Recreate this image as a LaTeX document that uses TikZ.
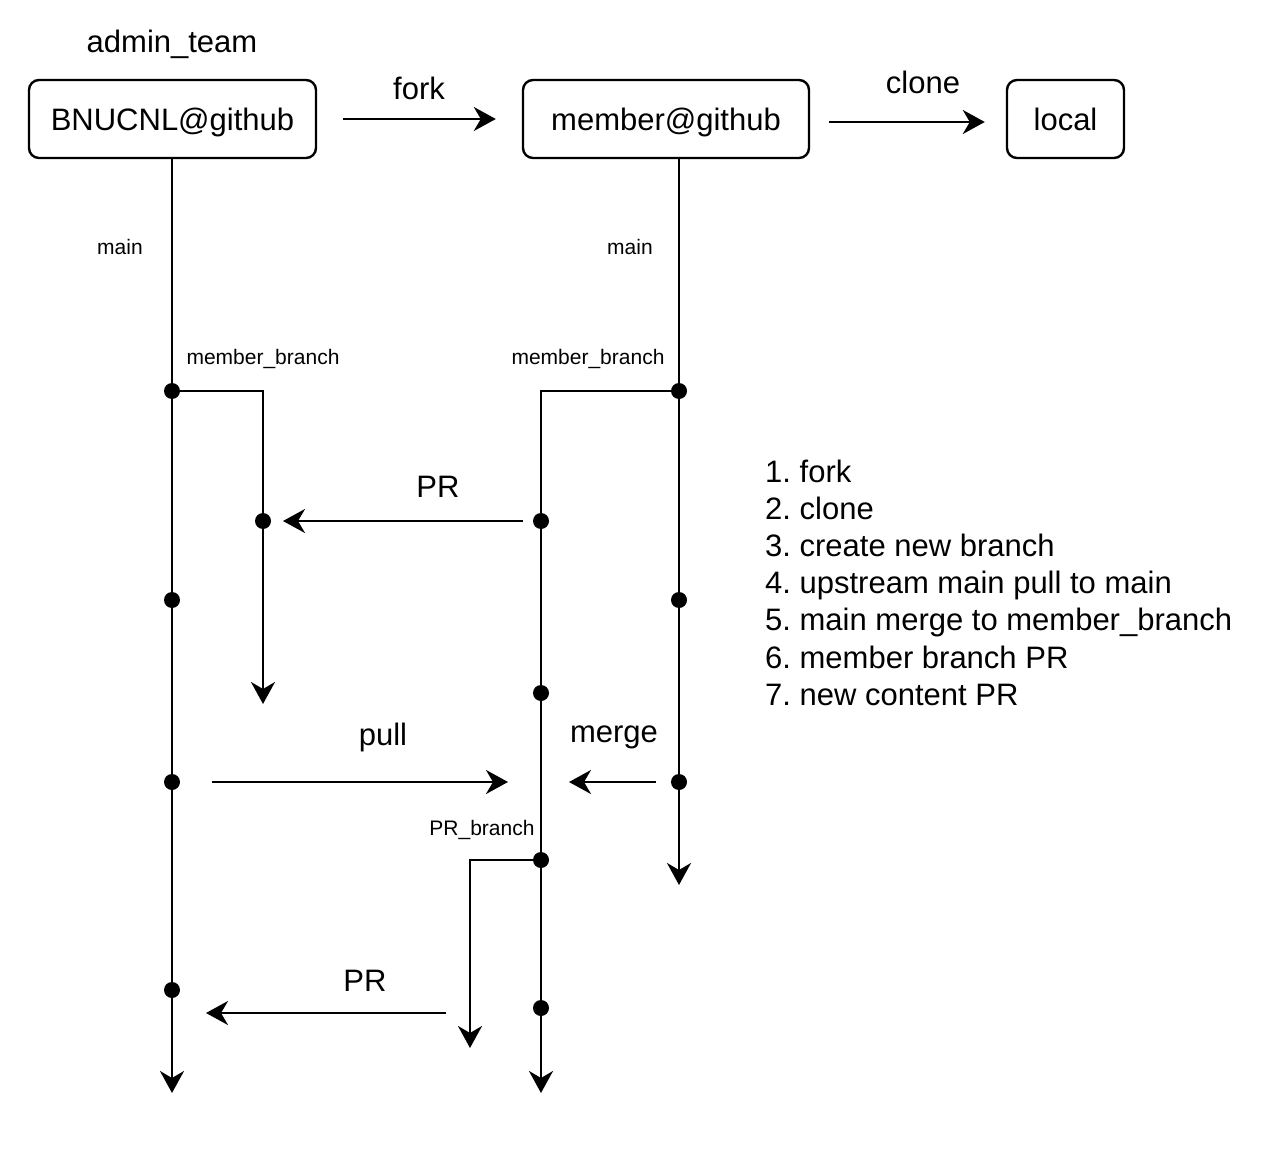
\documentclass[tikz,border=0pt]{standalone}
\usepackage{fontspec}
\setmainfont{Liberation Sans}
\usetikzlibrary{arrows.meta,calc}
\frenchspacing
\begin{document}
\begin{tikzpicture}[x=1pt,y=-1pt,
  line width=2.4pt,
  big/.style={font=\fontsize{31}{37}\selectfont, inner sep=0pt},
  small/.style={font=\fontsize{21}{25}\selectfont, inner sep=0pt},
  repo/.style={draw, rounded corners=10pt, minimum height=78pt, inner sep=0pt, text depth=0pt, font=\fontsize{31}{37}\selectfont},
  commit/.style={circle, fill, inner sep=0pt, minimum size=16pt},
  arr/.style={-{Stealth[length=22pt,width=24pt,inset=7pt]}},
]
\useasboundingbox (0,0) rectangle (1266,1166);

% repositories
\node[repo, minimum width=287pt] (bnu) at (172.5,119) {BNUCNL@github};
\node[repo, minimum width=286pt] (mem) at (666,119) {member@github};
\node[repo, minimum width=117pt] (local) at (1065.5,119) {local};

% titles and top arrows
\node[big, anchor=base] (admin) at (172,53) {admin\_team};
\draw[arr, shorten <=26pt, shorten >=26pt] (bnu) -- (mem);
\node[big, anchor=base] (forklbl) at (419,100) {fork};
\draw[arr] ($(mem.east)+(19,3)$) -- ($(local.west)+(-21,3)$);
\node[big, anchor=base] (clonelbl) at (923,94) {clone};

% commits on upstream main
\node[commit] (a1) at (172,391) {};
\node[commit] (a2) at (172,600) {};
\node[commit] (a3) at (172,782) {};
\node[commit] (a4) at (172,990) {};
\coordinate (aEnd) at (172,1093);

% upstream member_branch
\node[commit] (b1) at (263,521) {};
\coordinate (bEnd) at (263,704);

% fork main
\node[commit] (m1) at (679,391) {};
\node[commit] (m2) at (679,600) {};
\node[commit] (m3) at (679,782) {};
\coordinate (mEnd) at (679,885);

% fork member_branch
\node[commit] (c1) at (541,521) {};
\node[commit] (c2) at (541,693) {};
\node[commit] (c3) at (541,860) {};
\node[commit] (c4) at (541,1008) {};
\coordinate (cEnd) at (541,1093);

% PR_branch
\coordinate (dEnd) at (470,1048);

% branch lines
\draw[arr] (bnu.south -| a1) -- (aEnd);
\draw[arr] (a1.center) -| (bEnd);
\draw[arr] (mem.south -| m1) -- (mEnd);
\draw[arr] (m1.center) -| (cEnd);
\draw[arr] (c3.center) -| (dEnd);

% branch labels
\node[small, anchor=base] (mainA) at (120,255) {main};
\node[small, anchor=base] (mainM) at (630,255) {main};
\node[small, anchor=base] (mbA) at (263,364) {member\_branch};
\node[small, anchor=base] (mbM) at (588,364) {member\_branch};
\node[small, anchor=base] (prb) at (482,835) {PR\_branch};

% PR 1
\draw[arr, shorten <=18pt, shorten >=20pt] (c1.center) -- (b1.center);
\node[big, anchor=base] (pr1) at (438,497) {PR};

% pull
\draw[arr, shorten <=40pt, shorten >=33pt] (a3.center) -- (c1 |- a3);
\node[big, anchor=base] (pull) at (383,745) {pull};

% merge
\draw[arr, shorten <=23pt, shorten >=28pt] (m3.center) -- (c1 |- m3);
\node[big, anchor=base] (merge) at (614,742) {merge};

% PR 2
\coordinate (pr2s) at (446,1013);
\coordinate (pr2e) at (206,1013);
\draw[arr] (pr2s) -- (pr2e);
\node[big, anchor=base] (pr2) at (365,991) {PR};

% steps list
\foreach \t [count=\i from 0] in {1. fork, 2. clone, 3. create new branch,
  4. upstream main pull to main, 5. main merge to member\_branch,
  6. member branch PR, 7. new content PR}
  \node[big, anchor=base west] (step\i) at (764,482+37.2*\i) {\t};

\end{tikzpicture}
\end{document}
